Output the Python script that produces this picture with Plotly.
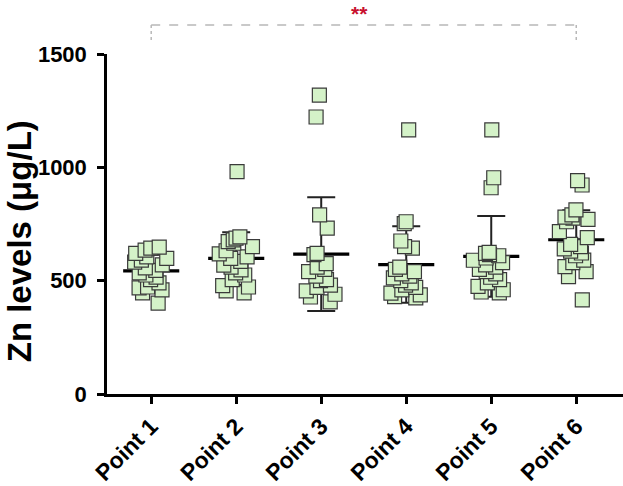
import numpy as np
import plotly.graph_objects as go

categories = ["Point 1", "Point 2", "Point 3", "Point 4", "Point 5", "Point 6"]

point1 = [648, 644, 635, 620, 605, 598, 591, 582, 570, 556, 545, 534, 525, 516, 505, 490, 472, 468, 459, 446, 401]
point2 = [981, 693, 688, 680, 672, 665, 650, 632, 618, 605, 598, 585, 569, 560, 548, 534, 525, 505, 478, 472, 455, 446]
point3 = [1319, 1222, 790, 732, 620, 615, 575, 560, 550, 540, 520, 505, 500, 480, 470, 455, 440, 428, 406]
point4 = [1165, 760, 752, 675, 650, 644, 560, 550, 540, 530, 520, 512, 500, 490, 480, 470, 459, 445, 437, 430, 424]
point5 = [1165, 954, 910, 625, 620, 615, 610, 600, 590, 580, 570, 560, 550, 540, 530, 515, 505, 490, 475, 460, 450, 446]
point6 = [941, 922, 812, 790, 780, 776, 770, 760, 716, 690, 660, 650, 640, 630, 622, 610, 591, 580, 562, 540, 518, 415]

groups = [point1, point2, point3, point4, point5, point6]
y_ticks = [0, 500, 1000, 1500]
y_title = "Zn levels (μg/L)"

means = [float(np.mean(g)) for g in groups]
sds = [float(np.std(g, ddof=1)) for g in groups]

FONT = "Liberation Sans, Arial, sans-serif"
MEAN_THICK = 14  # thickness of mean bar in data units (style)

fig = go.Figure()

# SD error bars (bar layer -> drawn beneath the points)
fig.add_trace(go.Bar(
    x=categories, y=means, width=0.66,
    marker=dict(color="rgba(0,0,0,0)", line=dict(width=0)),
    error_y=dict(type="data", array=sds, visible=True, color="#222222",
                 thickness=2, width=14),
    showlegend=False, hoverinfo="skip",
))
# mean lines
fig.add_trace(go.Bar(
    x=categories, y=[MEAN_THICK] * len(means),
    base=[m - MEAN_THICK / 2 for m in means], width=0.66,
    marker=dict(color="black", line=dict(width=0)),
    showlegend=False, hoverinfo="skip",
))

# individual points
for cat, vals in zip(categories, groups):
    fig.add_trace(go.Box(
        x=[cat] * len(vals), y=vals,
        boxpoints="all", jitter=0.65, pointpos=0,
        fillcolor="rgba(0,0,0,0)",
        line=dict(color="rgba(0,0,0,0)", width=0),
        whiskerwidth=0,
        marker=dict(symbol="square", size=14, color="#d4f2c8",
                    line=dict(color="#3a3a3a", width=1.2)),
        showlegend=False, hoverinfo="y",
    ))

# significance bracket
fig.add_shape(type="line", xref="x", yref="paper",
              x0=categories[0], x1=categories[-1], y0=1.085, y1=1.085,
              line=dict(color="#b8b8b8", width=1.5, dash="dash"))
fig.add_shape(type="line", xref="x", yref="paper",
              x0=categories[0], x1=categories[0], y0=1.085, y1=1.04,
              line=dict(color="#b8b8b8", width=1.5, dash="dot"))
fig.add_shape(type="line", xref="x", yref="paper",
              x0=categories[-1], x1=categories[-1], y0=1.085, y1=1.04,
              line=dict(color="#b8b8b8", width=1.5, dash="dot"))
fig.add_annotation(x=2.45, xref="x", y=1.158, yref="paper", text="**",
                   showarrow=False,
                   font=dict(family=FONT, size=21, color="#c8102e", weight="bold"),
                   xanchor="center", yanchor="top")

# y-axis title
fig.add_annotation(x=-0.17, xref="paper", y=0.45, yref="paper", text=y_title,
                   textangle=-90, showarrow=False,
                   font=dict(family=FONT, size=33, color="black", weight="bold"),
                   xanchor="center", yanchor="middle")

fig.update_layout(
    width=623, height=486,
    margin=dict(l=107, r=0, t=54, b=92, autoexpand=False),
    paper_bgcolor="white", plot_bgcolor="white",
    boxmode="overlay", barmode="overlay", boxgap=0.05,
    font=dict(family=FONT, color="black"),
    xaxis=dict(
        type="category", range=[-0.52, 5.55], automargin=False,
        showline=True, linecolor="black", linewidth=2.5,
        ticks="outside", ticklen=7, tickwidth=2.5, tickcolor="black",
        tickangle=-45, tickfont=dict(family=FONT, size=23, weight="bold"),
        showgrid=False, zeroline=False,
    ),
    yaxis=dict(
        range=[0, 1500], tickvals=y_ticks, automargin=False,
        showline=True, linecolor="black", linewidth=2.5,
        ticks="outside", ticklen=7, tickwidth=2.5, tickcolor="black",
        tickfont=dict(family=FONT, size=22, weight="bold"),
        ticklabelstandoff=6,
        showgrid=False, zeroline=False,
    ),
)

fig.write_html("out.html",
               config={"displayModeBar": False},
               post_script="document.body.style.margin='0';document.body.style.padding='0';")
